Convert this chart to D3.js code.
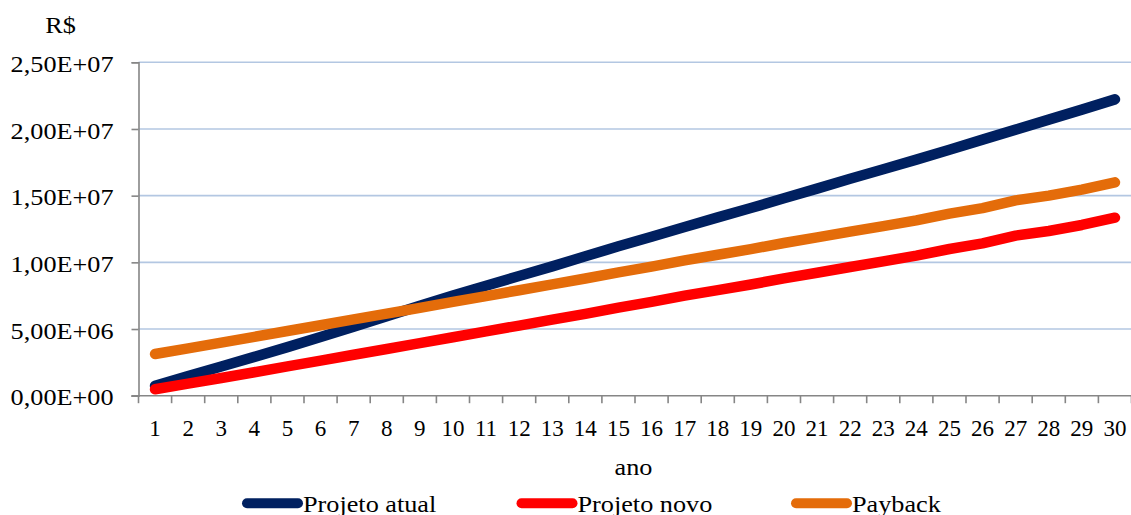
<!DOCTYPE html>
<html>
<head>
<meta charset="utf-8">
<script src="https://cdn.jsdelivr.net/npm/d3@7"></script>
<style>
  html, body { margin: 0; padding: 0; background: #ffffff; }
  svg { display: block; }
  text { font-family: "Liberation Serif", "Times New Roman", serif; fill: #000; }
</style>
</head>
<body>
<svg id="chart" width="1131" height="515"></svg>
<script>
// Anos do horizonte de análise
const anos = ["1","2","3","4","5","6","7","8","9","10","11","12","13","14","15",
              "16","17","18","19","20","21","22","23","24","25","26","27","28","29","30"];

// Valores acumulados (R$)
const projetoAtual = [
  750000, 1470000, 2190000, 2910000, 3640000, 4400000, 5180000, 5960000, 6740000, 7520000,
  8250000, 8970000, 9700000, 10450000, 11200000, 11920000, 12650000, 13370000, 14070000, 14800000,
  15530000, 16270000, 16980000, 17700000, 18450000, 19200000, 19950000, 20700000, 21450000, 22220000
];
const projetoNovo = [
  480000, 900000, 1330000, 1760000, 2200000, 2630000, 3070000, 3500000, 3940000, 4380000,
  4820000, 5260000, 5700000, 6140000, 6600000, 7030000, 7500000, 7920000, 8340000, 8800000,
  9220000, 9650000, 10070000, 10500000, 11000000, 11420000, 12000000, 12350000, 12800000, 13350000
];
const payback = [
  3130000, 3550000, 3980000, 4410000, 4850000, 5280000, 5720000, 6150000, 6590000, 7030000,
  7470000, 7910000, 8350000, 8790000, 9250000, 9680000, 10150000, 10570000, 10990000, 11450000,
  11870000, 12300000, 12720000, 13150000, 13650000, 14070000, 14650000, 15000000, 15450000, 16000000
];

// Marcas do eixo vertical
const yTicks = [0, 5000000, 10000000, 15000000, 20000000, 25000000];

const seriesNames = ["Projeto atual", "Projeto novo", "Payback"];
const seriesColors = ["#002060", "#FF0000", "#E46C0A"];
const seriesData = [projetoAtual, projetoNovo, payback];

const svg = d3.select("#chart");
const plot = { left: 138.5, right: 1131.5, top: 62.3, bottom: 395.7 };

const x = d3.scaleBand().domain(anos).range([plot.left, plot.right]).padding(0);
const y = d3.scaleLinear().domain([0, 25000000]).range([plot.bottom, plot.top]);

// Formato "2,50E+07"
function fmtExp(v) {
  const s = v.toExponential(2);
  const [m, e] = s.split("e");
  const n = parseInt(e, 10);
  const ex = (n < 0 ? "-" : "+") + String(Math.abs(n)).padStart(2, "0");
  return m.replace(".", ",") + "E" + ex;
}

const axisColor = "#868686";
const gridColor = "#B3C7E2";

// Linhas de grade horizontais
svg.append("g")
  .selectAll("line")
  .data(yTicks.filter(d => d > 0))
  .join("line")
  .attr("x1", plot.left)
  .attr("x2", plot.right)
  .attr("y1", d => y(d))
  .attr("y2", d => y(d))
  .attr("stroke", gridColor)
  .attr("stroke-width", 1.6);

// Eixo Y
const yAxis = d3.axisLeft(y).tickValues(yTicks).tickSize(7).tickPadding(18).tickFormat(fmtExp);
const gy = svg.append("g").attr("transform", `translate(${plot.left},0)`).call(yAxis);
gy.select(".domain").attr("stroke", axisColor).attr("stroke-width", 1.6);
gy.selectAll(".tick line").attr("stroke", axisColor).attr("stroke-width", 1.6);
gy.selectAll(".tick text")
  .attr("class", "st")
  .style("font-family", "'Liberation Serif', 'Times New Roman', serif")
  .style("font-size", "23px")
  .attr("fill", "#000")
  .attr("dy", "0.4em");

// Eixo X: marcas nas fronteiras das categorias
const gx = svg.append("g");
gx.append("line")
  .attr("x1", plot.left - 7).attr("x2", plot.right)
  .attr("y1", plot.bottom).attr("y2", plot.bottom)
  .attr("stroke", axisColor).attr("stroke-width", 1.6);
const boundaries = anos.map(a => x(a)).concat([x(anos[anos.length - 1]) + x.bandwidth()]);
gx.selectAll("line.tk")
  .data(boundaries)
  .join("line")
  .attr("class", "tk")
  .attr("x1", d => d).attr("x2", d => d)
  .attr("y1", plot.bottom).attr("y2", plot.bottom + 7.5)
  .attr("stroke", axisColor).attr("stroke-width", 1.6);
gx.selectAll("text")
  .data(anos)
  .join("text")
  .attr("x", d => x(d) + x.bandwidth() / 2)
  .attr("y", 435.7)
  .attr("text-anchor", "middle")
  .style("font-size", "23px")
  .text(d => d);

// Séries
const line = d3.line()
  .x((d, i) => x(anos[i]) + x.bandwidth() / 2)
  .y(d => y(d));

svg.append("g")
  .selectAll("path")
  .data(seriesData)
  .join("path")
  .attr("d", d => line(d))
  .attr("fill", "none")
  .attr("stroke", (d, i) => seriesColors[i])
  .attr("stroke-width", 10.5)
  .attr("stroke-linecap", "round")
  .attr("stroke-linejoin", "round");

// Títulos dos eixos
svg.append("text")
  .attr("class", "st")
  .attr("x", 60.5).attr("y", 32.7)
  .attr("text-anchor", "middle")
  .style("font-size", "23px")
  .text("R$");

svg.append("text")
  .attr("class", "st")
  .attr("x", 633.5).attr("y", 474.5)
  .attr("text-anchor", "middle")
  .style("font-size", "23px")
  .text("ano");

// Legenda
const legendX = [242, 516.5, 791];
const leg = svg.append("g")
  .selectAll("g")
  .data(seriesNames)
  .join("g")
  .attr("transform", (d, i) => `translate(${legendX[i]},0)`);
leg.append("line")
  .attr("x1", 5).attr("x2", 56)
  .attr("y1", 503.3).attr("y2", 503.3)
  .attr("stroke", (d, i) => seriesColors[i])
  .attr("stroke-width", 10)
  .attr("stroke-linecap", "round");
leg.append("text")
  .attr("class", "st")
  .attr("x", 61)
  .attr("y", 511.5)
  .style("font-size", "23px")
  .text(d => d);

// Leve alargamento horizontal do texto
svg.selectAll("text.st").each(function () {
  const w = this.getComputedTextLength();
  this.setAttribute("textLength", (w * 1.14).toFixed(1));
  this.setAttribute("lengthAdjust", "spacingAndGlyphs");
});
</script>
</body>
</html>
